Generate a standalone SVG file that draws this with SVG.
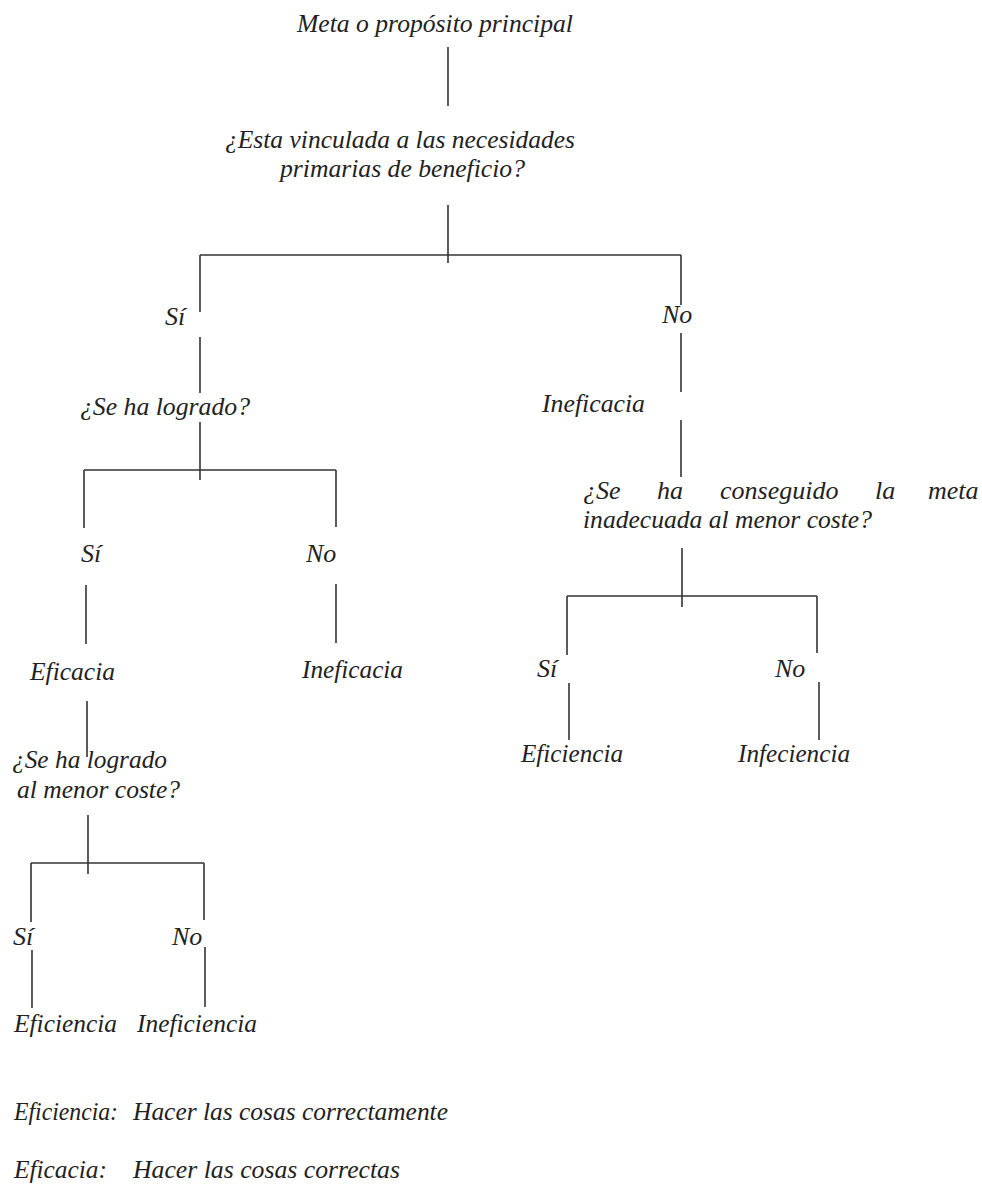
<svg xmlns="http://www.w3.org/2000/svg" width="982" height="1184" viewBox="0 0 982 1184">
<style>
text{font-family:"Liberation Serif","Times New Roman",serif;font-style:italic;font-size:26px;fill:#222}
.c line{stroke:#333;stroke-width:1.6;fill:none}
</style>
<rect width="982" height="1184" fill="#fff"/>
<g class="c" id="connectors">
<line x1="448" y1="47" x2="448" y2="106"/>
<line x1="448" y1="205" x2="448" y2="263"/>
<line x1="200" y1="255" x2="681" y2="255"/>
<line x1="200" y1="255" x2="200" y2="312"/>
<line x1="681" y1="255" x2="681" y2="305"/>
<line x1="200" y1="337" x2="200" y2="393"/>
<line x1="200" y1="422" x2="200" y2="480"/>
<line x1="84" y1="470" x2="336" y2="470"/>
<line x1="84" y1="470" x2="84" y2="528"/>
<line x1="336" y1="470" x2="336" y2="527"/>
<line x1="86" y1="585" x2="86" y2="644"/>
<line x1="336" y1="584" x2="336" y2="643"/>
<line x1="87" y1="701" x2="87" y2="757"/>
<line x1="88" y1="815" x2="88" y2="874"/>
<line x1="31" y1="863" x2="204" y2="863"/>
<line x1="31" y1="863" x2="31" y2="922"/>
<line x1="204" y1="863" x2="204" y2="920"/>
<line x1="32" y1="950" x2="32" y2="1008"/>
<line x1="205" y1="947" x2="205" y2="1007"/>
<line x1="681" y1="333" x2="681" y2="392"/>
<line x1="681" y1="420" x2="681" y2="477"/>
<line x1="682" y1="548" x2="682" y2="607"/>
<line x1="567" y1="596" x2="817" y2="596"/>
<line x1="567" y1="596" x2="567" y2="655"/>
<line x1="817" y1="596" x2="817" y2="653"/>
<line x1="569" y1="683" x2="569" y2="740"/>
<line x1="819" y1="682" x2="819" y2="740"/>
</g>
<g id="n-meta"><text x="297" y="32" textLength="276" lengthAdjust="spacingAndGlyphs">Meta o propósito principal</text></g>
<g id="n-vinculada"><text x="225" y="148" textLength="350" lengthAdjust="spacingAndGlyphs">¿Esta vinculada a las necesidades</text><text x="280" y="177" textLength="245" lengthAdjust="spacingAndGlyphs">primarias de beneficio?</text></g>
<g id="n-si1"><text x="165" y="325">Sí</text></g>
<g id="n-no1"><text x="662" y="323">No</text></g>
<g id="n-logrado"><text x="80" y="415" textLength="170" lengthAdjust="spacingAndGlyphs">¿Se ha logrado?</text></g>
<g id="n-ineficacia1"><text x="542" y="412" textLength="103" lengthAdjust="spacingAndGlyphs">Ineficacia</text></g>
<g id="n-si2"><text x="81" y="562">Sí</text></g>
<g id="n-no2"><text x="306" y="562">No</text></g>
<g id="n-eficacia"><text x="30" y="680" textLength="85" lengthAdjust="spacingAndGlyphs">Eficacia</text></g>
<g id="n-ineficacia2"><text x="302" y="678" textLength="101" lengthAdjust="spacingAndGlyphs">Ineficacia</text></g>
<g id="n-conseguido"><text y="499"><tspan x="583">¿Se</tspan><tspan x="657">ha</tspan><tspan x="720">conseguido</tspan><tspan x="875">la</tspan><tspan x="928">meta</tspan></text><text x="583" y="528" textLength="289" lengthAdjust="spacingAndGlyphs">inadecuada al menor coste?</text></g>
<g id="n-si3"><text x="537" y="677">Sí</text></g>
<g id="n-no3"><text x="775" y="677">No</text></g>
<g id="n-eficiencia1"><text x="521" y="762" textLength="102" lengthAdjust="spacingAndGlyphs">Eficiencia</text></g>
<g id="n-infeciencia"><text x="738" y="762" textLength="112" lengthAdjust="spacingAndGlyphs">Infeciencia</text></g>
<g id="n-logrado-coste"><text x="12" y="768" textLength="155" lengthAdjust="spacingAndGlyphs">¿Se ha logrado</text><text x="17" y="798" textLength="163" lengthAdjust="spacingAndGlyphs">al menor coste?</text></g>
<g id="n-si4"><text x="13" y="945">Sí</text></g>
<g id="n-no4"><text x="172" y="945">No</text></g>
<g id="n-eficiencia2"><text x="14" y="1032" textLength="103" lengthAdjust="spacingAndGlyphs">Eficiencia</text></g>
<g id="n-ineficiencia"><text x="137" y="1032" textLength="120" lengthAdjust="spacingAndGlyphs">Ineficiencia</text></g>
<g id="legend">
<text x="14" y="1120" textLength="104" lengthAdjust="spacingAndGlyphs">Eficiencia:</text>
<text x="133" y="1120" textLength="315" lengthAdjust="spacingAndGlyphs">Hacer las cosas correctamente</text>
<text x="14" y="1178" textLength="93" lengthAdjust="spacingAndGlyphs">Eficacia:</text>
<text x="133" y="1178" textLength="267" lengthAdjust="spacingAndGlyphs">Hacer las cosas correctas</text>
</g>
</svg>
